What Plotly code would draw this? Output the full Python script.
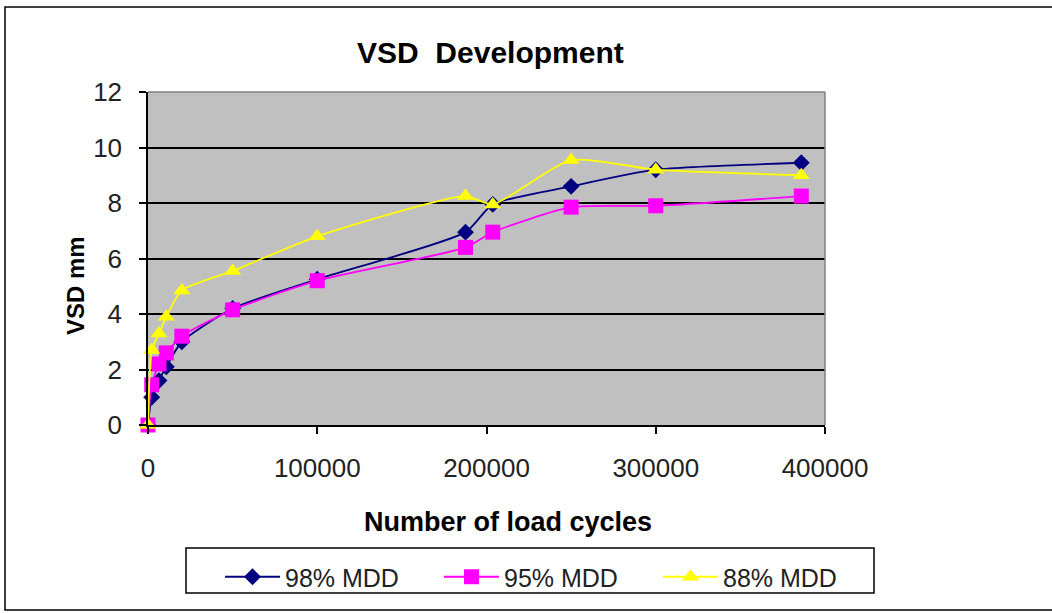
import plotly.graph_objects as go

# Load cycles at which VSD was measured (shared by all three compaction levels)
load_cycles = [0, 2200, 6500, 10800, 20000, 50000, 100000, 187600, 203700, 250000, 300000, 386000]

# VSD (mm) for each compaction level
vsd_98 = [0, 1.0, 1.6, 2.1, 3.0, 4.2, 5.25, 6.95, 7.95, 8.6, 9.2, 9.45]
vsd_95 = [0, 1.45, 2.2, 2.6, 3.2, 4.15, 5.2, 6.4, 6.95, 7.85, 7.9, 8.25]
vsd_88 = [0, 2.7, 3.3, 3.9, 4.85, 5.55, 6.8, 8.25, 7.95, 9.55, 9.2, 9.0]

series_names = ["98% MDD", "95% MDD", "88% MDD"]
x_ticks = [0, 100000, 200000, 300000, 400000]
y_ticks = [0, 2, 4, 6, 8, 10, 12]

W, H = 1052, 613
L, R, T, B = 148, 825, 92, 425  # plot area in pixels
pw, ph = R - L, B - T


def px_to_paper(x, y):
    return (x - L) / pw, (B - y) / ph


FONT = "Liberation Sans, Arial, sans-serif"

styles = [
    dict(color="#000080", symbol="diamond", size=13),
    dict(color="#FF00FF", symbol="square", size=15),
    dict(color="#FFFF00", symbol="triangle-up", size=15),
]

fig = go.Figure()
for name, vals, st in zip(series_names, [vsd_98, vsd_95, vsd_88], styles):
    fig.add_trace(go.Scatter(
        x=load_cycles, y=vals, name=name, mode="lines+markers",
        line=dict(color=st["color"], width=1.8, shape="spline", smoothing=0.6),
        marker=dict(color=st["color"], symbol=st["symbol"], size=st["size"],
                    line=dict(width=0)),
        cliponaxis=False,
    ))

fig.update_xaxes(
    range=[0, 400000], tickvals=x_ticks, ticktext=[str(v) for v in x_ticks],
    showgrid=False, zeroline=False,
    showline=True, linecolor="#000000", linewidth=1.5,
    ticks="outside", ticklen=7, tickcolor="#000000", tickwidth=1.5,
    tickfont=dict(family=FONT, size=26, color="#222222"),
    ticklabelstandoff=12,
)
fig.update_yaxes(
    range=[0, 12], tickvals=y_ticks, ticktext=[str(v) for v in y_ticks],
    showgrid=True, gridcolor="#000000", gridwidth=1.5, zeroline=False,
    showline=True, linecolor="#000000", linewidth=1.5,
    ticks="outside", ticklen=7, tickcolor="#000000", tickwidth=1.5,
    tickfont=dict(family=FONT, size=26, color="#222222"),
    ticklabelstandoff=12,
)

shapes = []
# plot area border (top and right)
shapes.append(dict(type="line", xref="paper", yref="paper", x0=0, y0=1, x1=1, y1=1,
                   line=dict(color="#808080", width=1.5)))
shapes.append(dict(type="line", xref="paper", yref="paper", x0=1, y0=0, x1=1, y1=1,
                   line=dict(color="#808080", width=1.5)))
# chart area border
x0, y0 = px_to_paper(5, 610)
x1, y1 = px_to_paper(1070, 7)
shapes.append(dict(type="rect", xref="paper", yref="paper", x0=x0, y0=y0, x1=x1, y1=y1,
                   line=dict(color="#000000", width=1.5), fillcolor="rgba(0,0,0,0)"))
# legend frame
x0, y0 = px_to_paper(186, 593)
x1, y1 = px_to_paper(874, 548)
shapes.append(dict(type="rect", xref="paper", yref="paper", x0=x0, y0=y0, x1=x1, y1=y1,
                   line=dict(color="#000000", width=1.5), fillcolor="#FFFFFF", layer="below"))

annotations = []
tx, ty = px_to_paper(490, 52)
annotations.append(dict(text="<b>VSD  Development</b>", x=tx, y=ty, xref="paper", yref="paper",
                        showarrow=False, xanchor="center", yanchor="middle",
                        font=dict(family=FONT, size=30, color="#000000")))
ax, ay = px_to_paper(508, 522)
annotations.append(dict(text="<b>Number of load cycles</b>", x=ax, y=ay, xref="paper", yref="paper",
                        showarrow=False, xanchor="center", yanchor="middle",
                        font=dict(family=FONT, size=27, color="#000000")))
vx, vy = px_to_paper(75, 286)
annotations.append(dict(text="<b>VSD mm</b>", x=vx, y=vy, xref="paper", yref="paper",
                        showarrow=False, xanchor="center", yanchor="middle", textangle=-90,
                        font=dict(family=FONT, size=24, color="#000000")))

fig.update_layout(
    width=W, height=H,
    margin=dict(l=L, r=W - R, t=T, b=H - B, autoexpand=False),
    paper_bgcolor="#FFFFFF", plot_bgcolor="#C0C0C0",
    showlegend=True,
    legend=dict(orientation="h", xref="container", yref="container",
                x=220 / W, y=1 - 554 / H, xanchor="left", yanchor="top",
                borderwidth=0, bgcolor="rgba(0,0,0,0)", itemwidth=55,
                font=dict(family=FONT, size=25, color="#222222"),
                entrywidth=149, entrywidthmode="pixels"),
    shapes=shapes, annotations=annotations,
)

fig.write_html("out.html")
